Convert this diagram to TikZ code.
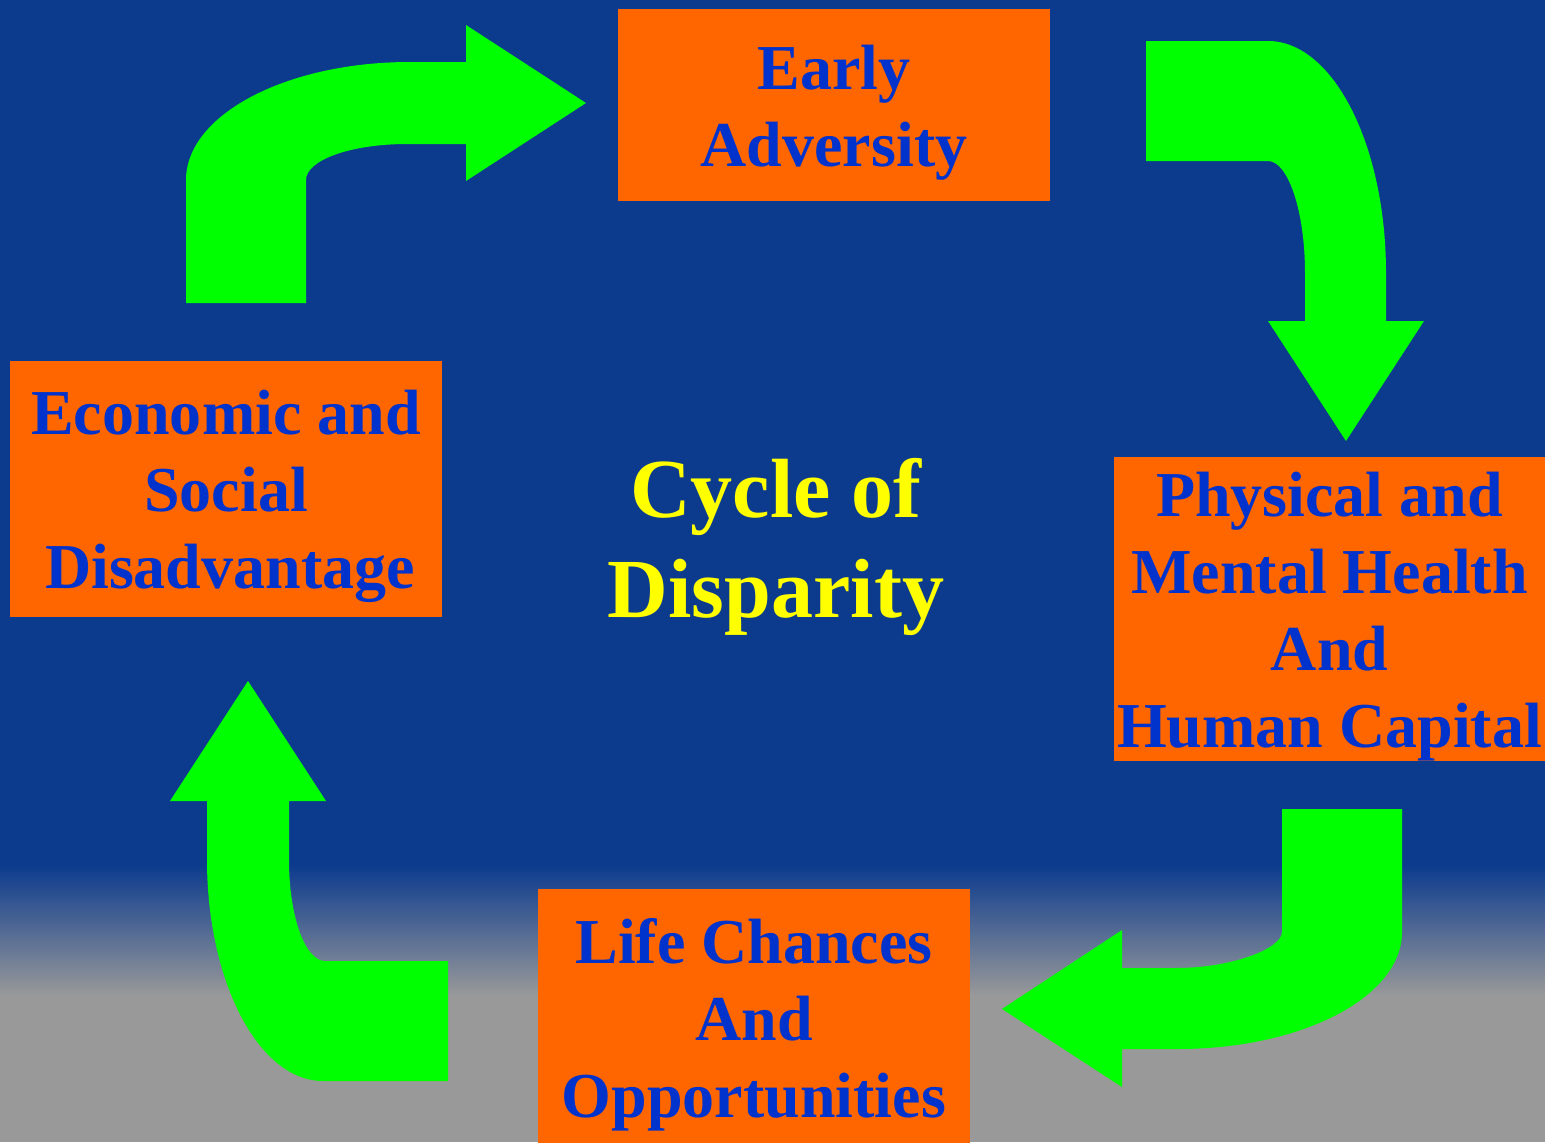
\documentclass[tikz,border=0pt]{standalone}
\usepackage{fontspec}
\setmainfont{Liberation Serif}
\usepackage{xcolor}
\usetikzlibrary{positioning}
\definecolor{backdrop}{RGB}{12, 59, 142}
\definecolor{ground}{RGB}{153, 153, 153}
\definecolor{stagebox}{RGB}{255, 102, 0}
\definecolor{stagetext}{RGB}{0, 51, 204}
\definecolor{cyclearrow}{RGB}{0, 255, 0}
\definecolor{titletext}{RGB}{255, 255, 0}
\newcommand{\topgap}{\rule{0pt}{0.6cm}}

\begin{document}
\begin{tikzpicture}[
    x=0.01cm, y=-0.01cm,
    stage/.style={rectangle, fill=stagebox, text=stagetext, inner sep=0pt,
                  minimum width=4.32cm, align=center,
                  font=\bfseries\fontsize{18.2}{21.9}\selectfont},
    cyclebend/.style={fill=cyclearrow}
]
\useasboundingbox (0,0) rectangle (1545,1142);

% Background: blue fading into grey
\fill[backdrop] (0,0) rectangle (1545,866);
\shade[top color=backdrop, bottom color=ground] (0,865) rectangle (1545,996);
\fill[ground] (0,995) rectangle (1545,1142);

% Stage boxes
\node[stage, minimum height=1.92cm] (early) at (834,105) {\topgap Early\\Adversity};
\node[stage, minimum height=3.04cm, minimum width=4.31cm] (health) at (1329.5,609)
    {\topgap Physical and\\Mental Health\\And\\Human Capital};
\node[stage, minimum height=2.71cm] (chances) at (754,1024.5)
    {Life Chances\\And\\Opportunities};
\node[stage, minimum height=2.56cm] (economic) at (226,489)
    {\topgap Economic and\\Social\\\hspace{0.08cm}Disadvantage};

% Centre title
\node[text=titletext, align=center, font=\bfseries\fontsize{23.9}{28.4}\selectfont]
    (title) at (776,547) {Cycle of\\Disparity};

% Arrow 1: economic -> early
\fill[cyclebend] (186,303) -- (186,180) .. controls (186,115) and (286,62) .. (410,62)
    -- (466,62) -- (466,25) -- (586,103) -- (466,181) -- (466,144) -- (407,144)
    .. controls (351,144) and (306,160) .. (306,180) -- (306,303) -- cycle;

% Arrow 2: early -> health
\fill[cyclebend] (1146,41) -- (1268,41) .. controls (1333,41) and (1386,145) .. (1386,273)
    -- (1386,321) -- (1424,321) -- (1346,441) -- (1268,321) -- (1305,321) -- (1305,273)
    .. controls (1305,211) and (1288,161) .. (1268,161) -- (1146,161) -- cycle;

% Arrow 3: health -> chances
\fill[cyclebend] (1282,809) -- (1402,809) -- (1402,932) .. controls (1402,997) and (1302,1049) .. (1178,1049)
    -- (1122,1049) -- (1122,1087) -- (1002,1009) -- (1122,930) -- (1122,968) -- (1175,968)
    .. controls (1234,968) and (1282,948) .. (1282,932) -- cycle;

% Arrow 4: chances -> economic
\fill[cyclebend] (448,961) -- (448,1081) -- (323,1081) .. controls (259,1081) and (207,982) .. (207,860)
    -- (207,801) -- (170,801) -- (248,681) -- (326,801) -- (289,801) -- (289,860)
    .. controls (289,916) and (305,961) .. (325,961) -- cycle;

\end{tikzpicture}
\end{document}
